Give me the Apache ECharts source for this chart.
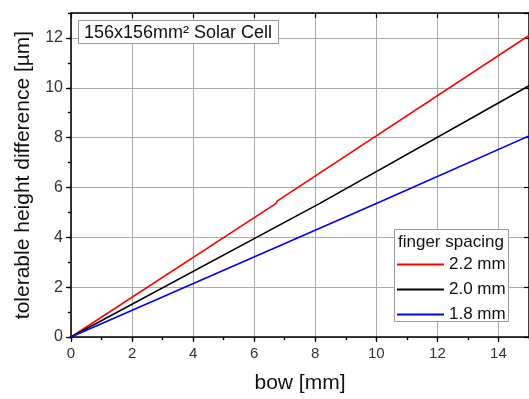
<!DOCTYPE html>
<html>
<head>
<meta charset="utf-8">
<script src="https://cdn.jsdelivr.net/npm/echarts@6/dist/echarts.min.js"></script>
<style>
html,body{margin:0;padding:0;background:#fff;}
#c{width:529px;height:399px;}
</style>
</head>
<body>
<div id="c"></div>
<script>
// ---- data ----
const seriesNames = ['2.2 mm', '2.0 mm', '1.8 mm'];
const redX = [0, 6.72, 6.76, 15];
const redY = [0, 5.36, 5.46, 12.1];
const blackX = [0, 8.15, 8.2, 15];
const blackY = [0, 5.36, 5.44, 10.08];
const blueX = [0, 10.0, 10.05, 15];
const blueY = [0, 5.36, 5.42, 8.07];
const xTicks = [0, 2, 4, 6, 8, 10, 12, 14];
const yTicks = [0, 2, 4, 6, 8, 10, 12];
const boxTitle = '156x156mm² Solar Cell';
const legendTitle = 'finger spacing';
const xName = 'bow [mm]';
const yName = 'tolerable height difference [µm]';

const pair = (xs, ys) => xs.map((x, i) => [x, ys[i]]);

const FONT = '"Liberation Sans", Arial, sans-serif';
const chart = echarts.init(document.getElementById('c'), null, {renderer: 'canvas'});

const X_MIN = 0, X_MAX = 15, Y_MIN = 0, Y_MAX = 13;

function xAxisDef(opts) {
  return Object.assign({
    type: 'value', min: X_MIN, max: X_MAX, interval: 2,
    axisLine: {show: true, onZero: false, lineStyle: {color: '#000', width: 1.5}},
    axisTick: {show: true, length: 5, lineStyle: {color: '#000', width: 1.2}},
    axisLabel: {show: false},
    splitLine: {show: false}
  }, opts);
}
function yAxisDef(opts) {
  return Object.assign({
    type: 'value', min: Y_MIN, max: Y_MAX, interval: 2,
    axisLine: {show: true, onZero: false, lineStyle: {color: '#000', width: 1.5}},
    axisTick: {show: true, length: 5, lineStyle: {color: '#000', width: 1.2}},
    axisLabel: {show: false},
    splitLine: {show: false}
  }, opts);
}

const option = {
  animation: false,
  backgroundColor: '#fff',
  grid: {left: 71, top: 13, width: 461, height: 329, containLabel: false},
  xAxis: [
    xAxisDef({
      position: 'bottom',
      axisLabel: {show: true, fontSize: 15, color: '#333', fontFamily: FONT, margin: 9,
        showMaxLabel: false,
        formatter: v => (xTicks.indexOf(v) >= 0 ? String(v) : '')},
      splitLine: {show: true, lineStyle: {color: '#aaaaaa', width: 1}},
      name: xName, nameLocation: 'middle', nameGap: 36,
      nameTextStyle: {fontSize: 21, color: '#111', fontFamily: FONT}
    }),
    xAxisDef({position: 'bottom', interval: 1, axisLine: {show: false}, axisTick: {show: true, length: 3, lineStyle: {color: '#000', width: 1.2}}}),
    xAxisDef({position: 'top', axisTick: {show: true, inside: true, length: 5, lineStyle: {color: '#000', width: 1.2}}}),
    xAxisDef({position: 'top', interval: 1, axisLine: {show: false}, axisTick: {show: true, inside: true, length: 3, lineStyle: {color: '#000', width: 1.2}}})
  ],
  yAxis: [
    yAxisDef({
      position: 'left',
      axisLabel: {show: true, fontSize: 16, color: '#333', fontFamily: FONT, margin: 8,
        showMaxLabel: false,
        formatter: v => (yTicks.indexOf(v) >= 0 ? String(v) : '')},
      splitLine: {show: true, lineStyle: {color: '#aaaaaa', width: 1}},
      name: yName, nameLocation: 'middle', nameGap: 37, nameRotate: 90,
      nameTextStyle: {fontSize: 21, color: '#111', fontFamily: FONT}
    }),
    yAxisDef({position: 'left', interval: 1, axisLine: {show: false}, axisTick: {show: true, length: 3, lineStyle: {color: '#000', width: 1.2}}}),
    yAxisDef({position: 'right', axisTick: {show: true, inside: true, length: 5, lineStyle: {color: '#000', width: 1.2}}}),
    yAxisDef({position: 'right', interval: 1, axisLine: {show: false}, axisTick: {show: true, inside: true, length: 3, lineStyle: {color: '#000', width: 1.2}}})
  ],
  legend: {
    show: true, orient: 'vertical', left: 397, top: 256, padding: 0,
    itemWidth: 47, itemHeight: 2, itemGap: 8, icon: 'rect',
    textStyle: {fontSize: 17, color: '#111', fontFamily: FONT, padding: [0, 0, 0, 0]},
    data: seriesNames, z: 20
  },
  series: [
    {name: seriesNames[0], type: 'line', data: pair(redX, redY), showSymbol: false, symbol: 'none',
      lineStyle: {color: '#ff0000', width: 1.6}, itemStyle: {color: '#ff0000'}, clip: true, z: 2},
    {name: seriesNames[1], type: 'line', data: pair(blackX, blackY), showSymbol: false, symbol: 'none',
      lineStyle: {color: '#000000', width: 1.6}, itemStyle: {color: '#000000'}, clip: true, z: 2},
    {name: seriesNames[2], type: 'line', data: pair(blueX, blueY), showSymbol: false, symbol: 'none',
      lineStyle: {color: '#0000ff', width: 1.6}, itemStyle: {color: '#0000ff'}, clip: true, z: 2}
  ],
  graphic: [
    {type: 'rect', z: 5, shape: {x: 78.5, y: 20.5, width: 200, height: 23},
      style: {fill: '#fff', stroke: '#999', lineWidth: 1}},
    {type: 'text', z: 6, x: 84, y: 33,
      style: {text: boxTitle, fontSize: 18, fontFamily: FONT, fill: '#111', verticalAlign: 'middle', align: 'left'}},
    {type: 'rect', z: 5, shape: {x: 394.5, y: 229.5, width: 114, height: 92},
      style: {fill: '#fff', stroke: '#999', lineWidth: 1}},
    {type: 'text', z: 6, x: 398, y: 242.5,
      style: {text: legendTitle, fontSize: 17, fontFamily: FONT, fill: '#111', verticalAlign: 'middle', align: 'left'}}
  ]
};
chart.setOption(option);
</script>
</body>
</html>
